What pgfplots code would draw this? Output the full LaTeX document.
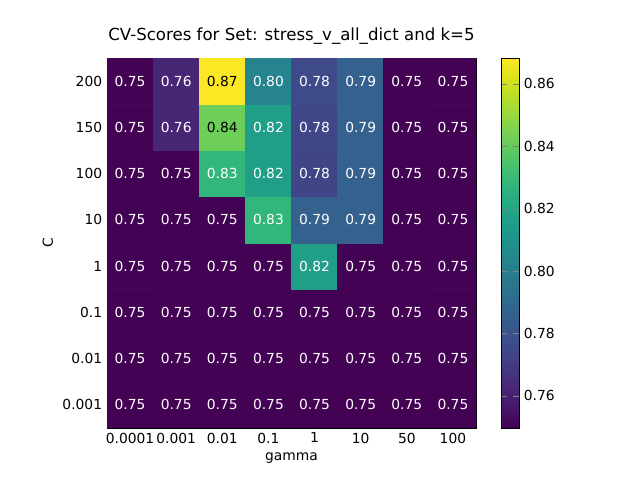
\documentclass[border=0pt]{standalone}
\usepackage{pgfplots}
\pgfplotsset{compat=1.18}
\usepackage{fontspec}
\setmainfont{DejaVu Sans}
\begin{document}
\begin{tikzpicture}
\useasboundingbox (-1.07in,-0.52in) rectangle (5.33in,4.28in);
\begin{axis}[
  at={(0,0)}, anchor=south west,
  scale only axis, width=3.69in, height=3.70in,
  xmin=-0.5, xmax=7.5, ymin=-0.5, ymax=7.5,
  enlargelimits=false,
  xtick={0,...,7}, ytick={0,...,7},
  xticklabels={0.0001,0.001,0.01,0.1,1,10,50,100},
  yticklabels={0.001,0.01,0.1,1,10,100,150,200},
  xlabel={gamma}, ylabel={C},
  title={CV-Scores for Set: stress\_v\_all\_dict and k=5},
  title style={font=\fontsize{12}{14}\selectfont},
  tick label style={font=\fontsize{10}{12}\selectfont},
  label style={font=\fontsize{10}{12}\selectfont},
  /pgf/number format/assume math mode=true,
  colormap name=viridis,
  point meta min=0.7497, point meta max=0.8683,
  colorbar,
  colorbar style={
    at={(1.0678,0)}, anchor=south west,
    width=0.18in, height=3.70in,
    ytick={0.76,0.78,...,0.861},
    yticklabel style={/pgf/number format/fixed,/pgf/number format/precision=2,/pgf/number format/zerofill,/pgf/number format/assume math mode=true,font=\fontsize{10}{12}\selectfont},
  },
]
\addplot[matrix plot*, mesh/cols=8, mesh/rows=8, point meta=explicit] table[meta=c] {
x y c
0 0 0.750
1 0 0.750
2 0 0.750
3 0 0.750
4 0 0.750
5 0 0.750
6 0 0.750
7 0 0.750
0 1 0.750
1 1 0.750
2 1 0.750
3 1 0.750
4 1 0.750
5 1 0.750
6 1 0.750
7 1 0.750
0 2 0.750
1 2 0.750
2 2 0.750
3 2 0.750
4 2 0.750
5 2 0.750
6 2 0.750
7 2 0.750
0 3 0.750
1 3 0.750
2 3 0.750
3 3 0.750
4 3 0.816
5 3 0.750
6 3 0.750
7 3 0.750
0 4 0.750
1 4 0.750
2 4 0.750
3 4 0.828
4 4 0.786
5 4 0.786
6 4 0.750
7 4 0.750
0 5 0.750
1 5 0.750
2 5 0.828
3 5 0.816
4 5 0.774
5 5 0.786
6 5 0.750
7 5 0.750
0 6 0.750
1 6 0.762
2 6 0.842
3 6 0.816
4 6 0.775
5 6 0.786
6 6 0.750
7 6 0.750
0 7 0.750
1 7 0.762
2 7 0.868
3 7 0.803
4 7 0.776
5 7 0.786
6 7 0.750
7 7 0.750
};
\addplot[only marks, mark=none, point meta=explicit symbolic,
  nodes near coords, nodes near coords style={anchor=center, text=white, font=\fontsize{10}{12}\selectfont}]
  table[meta=l] {
x y l
0 0 0.75
1 0 0.75
2 0 0.75
3 0 0.75
4 0 0.75
5 0 0.75
6 0 0.75
7 0 0.75
0 1 0.75
1 1 0.75
2 1 0.75
3 1 0.75
4 1 0.75
5 1 0.75
6 1 0.75
7 1 0.75
0 2 0.75
1 2 0.75
2 2 0.75
3 2 0.75
4 2 0.75
5 2 0.75
6 2 0.75
7 2 0.75
0 3 0.75
1 3 0.75
2 3 0.75
3 3 0.75
4 3 0.82
5 3 0.75
6 3 0.75
7 3 0.75
0 4 0.75
1 4 0.75
2 4 0.75
3 4 0.83
4 4 0.79
5 4 0.79
6 4 0.75
7 4 0.75
0 5 0.75
1 5 0.75
2 5 0.83
3 5 0.82
4 5 0.78
5 5 0.79
6 5 0.75
7 5 0.75
0 6 0.75
1 6 0.76
3 6 0.82
4 6 0.78
5 6 0.79
6 6 0.75
7 6 0.75
0 7 0.75
1 7 0.76
3 7 0.80
4 7 0.78
5 7 0.79
6 7 0.75
7 7 0.75
};
\addplot[only marks, mark=none, point meta=explicit symbolic,
  nodes near coords, nodes near coords style={anchor=center, text=black, font=\fontsize{10}{12}\selectfont}]
  table[meta=l] {
x y l
2 6 0.84
2 7 0.87
};
\end{axis}
\end{tikzpicture}
\end{document}
